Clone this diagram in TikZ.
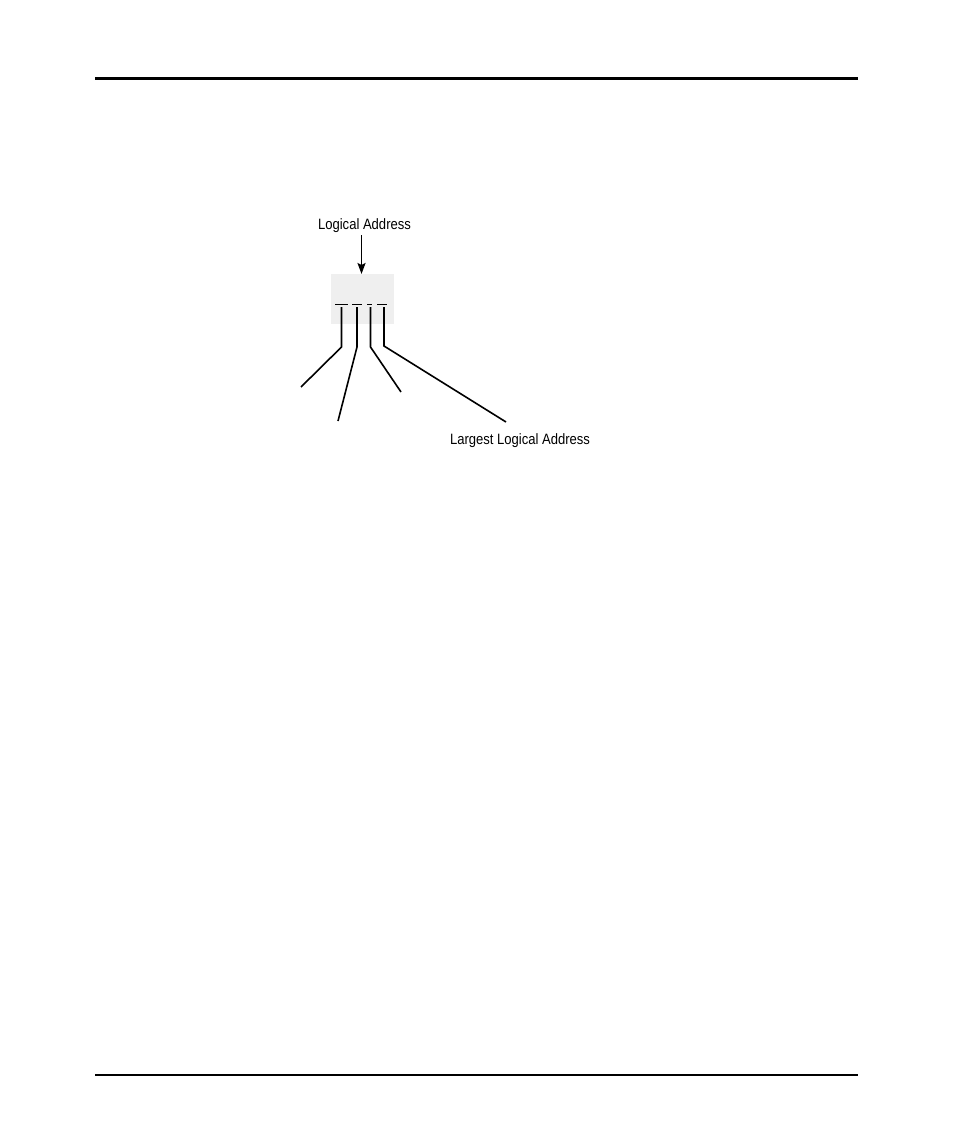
\documentclass[tikz,border=0pt]{standalone}
\usepackage{fontspec}
\setmainfont[FakeStretch=0.87]{Liberation Sans}
\usetikzlibrary{arrows.meta}
\begin{document}
\begin{tikzpicture}[x=1pt,y=-1pt,
  lbl/.style={inner sep=0pt,anchor=base,font=\fontsize{15pt}{17pt}\selectfont},
  rule/.style={line width=2.2pt},
  lead/.style={line width=1.6pt},
  tick/.style={line width=1.1pt}]
\useasboundingbox (0,0) rectangle (954,1145);
% page rules
\draw[rule] (95,78.5) -- (858,78.5);
\draw[rule] (95,1075) -- (858,1075);
% register box
\node[fill={rgb,255:red,239;green,239;blue,239},minimum width=63pt,minimum height=50pt,inner sep=0pt,anchor=north west] (box) at (331,274) {};
% labels
\node[lbl] (la) at (364.5,229.5) {Logical Address};
\node[lbl] (lla) at (520,444) {Largest Logical Address};
% arrow
\draw[lead,line width=1.9pt,-{Stealth[length=11pt,width=8pt,inset=2pt]}] (361.5,235) -- (box.north -| 361.5,0);
% ticks
\draw[tick] (335,304.3) -- (348,304.3);
\draw[tick] (352,304.3) -- (362,304.3);
\draw[tick] (367,304.3) -- (372,304.3);
\draw[tick] (377,304.3) -- (387,304.3);
% leaders
\coordinate (e1) at (301,387);
\coordinate (e2) at (338,421);
\coordinate (e3) at (401,392);
\coordinate (e4) at (506,422);
\draw[lead] (341.5,307) -- (341.5,347) -- (e1);
\draw[lead] (357,307) -- (357,347) -- (e2);
\draw[lead] (370.5,307) -- (370.5,347) -- (e3);
\draw[lead] (384,307) -- (384,346) -- (e4);
\end{tikzpicture}
\end{document}
